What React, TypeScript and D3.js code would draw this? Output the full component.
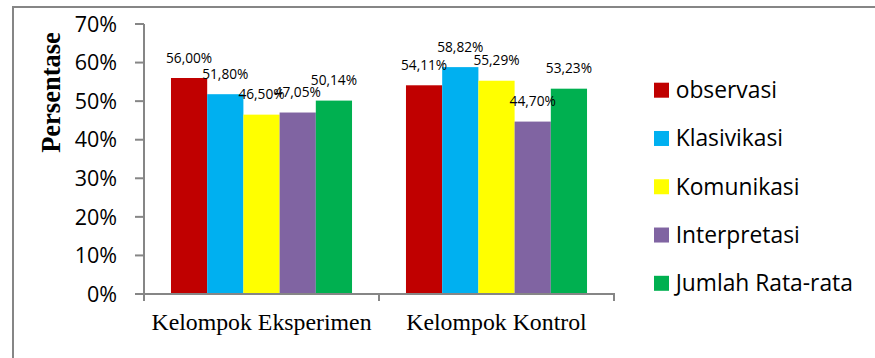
import React from "react";
import * as d3 from "d3";

const categories = ["Kelompok Eksperimen", "Kelompok Kontrol"];
const seriesNames = ["observasi", "Klasivikasi", "Komunikasi", "Interpretasi", "Jumlah Rata-rata"];
const seriesColors = ["#C00000", "#00B0F0", "#FFFF00", "#8064A2", "#00B050"];
const observasi = [56.0, 54.11];
const klasivikasi = [51.8, 58.82];
const komunikasi = [46.5, 55.29];
const interpretasi = [47.05, 44.7];
const jumlahRataRata = [50.14, 53.23];
const yTicks = [0, 10, 20, 30, 40, 50, 60, 70];

const seriesValues = [observasi, klasivikasi, komunikasi, interpretasi, jumlahRataRata];

const W = 875;
const H = 358;
const plotLeft = 144;
const plotRight = 614;
const plotTop = 24;
const plotBottom = 294;
const axisColor = "#868686";
const sans = "'Open Sans', sans-serif";
const serif = "'Liberation Serif', 'Times New Roman', serif";

export default function App() {
  const x0 = d3.scaleBand<string>().domain(categories).range([plotLeft, plotRight]).paddingInner(0).paddingOuter(0);
  const x1 = d3
    .scaleBand<string>()
    .domain(seriesNames)
    .range([0, x0.bandwidth()])
    .paddingOuter(0.745)
    .paddingInner(0);
  const y = d3.scaleLinear().domain([0, 70]).range([plotBottom, plotTop]);
  const fmt = (v: number) => v.toFixed(2).replace(".", ",") + "%";

  const legendY = d3.scalePoint<string>().domain(seriesNames).range([90.2, 283.3]);

  return (
    <svg width={W} height={H} style={{ position: "absolute", left: 0, top: 0 }}>
      <rect x={0} y={0} width={W} height={H} fill="#fff" />
      <rect x={13} y={7} width={W + 20} height={H + 20} fill="none" stroke={axisColor} strokeWidth={2} />

      {/* bars */}
      {categories.map((c, ci) =>
        seriesNames.map((s, si) => {
          const v = seriesValues[si][ci];
          const bx = (x0(c) as number) + (x1(s) as number);
          return (
            <rect
              key={c + s}
              x={bx}
              y={y(v)}
              width={x1.bandwidth()}
              height={plotBottom - y(v)}
              fill={seriesColors[si]}
            />
          );
        })
      )}

      {/* y axis */}
      <line x1={plotLeft} x2={plotLeft} y1={plotTop} y2={plotBottom + 7} stroke={axisColor} strokeWidth={2} />
      {yTicks.map((t) => (
        <g key={t}>
          <line x1={135} x2={plotLeft} y1={y(t)} y2={y(t)} stroke={axisColor} strokeWidth={2} />
          <text
            x={117}
            y={y(t) + 7.7}
            textAnchor="end"
            fontFamily={sans}
            fontSize={21.5}
            fill="#000"
          >
            {t}%
          </text>
        </g>
      ))}

      {/* x axis */}
      <line x1={135} x2={plotRight + 1} y1={plotBottom} y2={plotBottom} stroke={axisColor} strokeWidth={2} />
      {[...categories.map((c) => x0(c) as number), plotRight].map((tx, i) => (
        <line key={i} x1={tx} x2={tx} y1={plotBottom} y2={plotBottom + 7} stroke={axisColor} strokeWidth={2} />
      ))}
      {categories.map((c) => (
        <text
          key={c}
          x={(x0(c) as number) + x0.bandwidth() / 2}
          y={330}
          textAnchor="middle"
          fontFamily={serif}
          fontSize={23.8}
          fill="#000"
        >
          {c}
        </text>
      ))}

      {/* data labels */}
      {categories.map((c, ci) =>
        seriesNames.map((s, si) => {
          const v = seriesValues[si][ci];
          const cx = (x0(c) as number) + (x1(s) as number) + x1.bandwidth() / 2;
          return (
            <text
              key={"l" + c + s}
              x={cx}
              y={y(v) - 15.5}
              textAnchor="middle"
              fontFamily={sans}
              fontSize={13.7}
              fill="#000"
            >
              {fmt(v)}
            </text>
          );
        })
      )}

      {/* y title */}
      <text
        transform={`translate(60,92.5) rotate(-90)`}
        textAnchor="middle"
        fontFamily={serif}
        fontWeight="bold"
        fontSize={26.5}
        fill="#000"
      >
        Persentase
      </text>

      {/* legend */}
      {seriesNames.map((s, si) => {
        const cy = legendY(s) as number;
        return (
          <g key={"lg" + s}>
            <rect x={654} y={cy - 7.5} width={15} height={15} fill={seriesColors[si]} />
            <text x={675.7} y={cy + 8} fontFamily={sans} fontSize={22.8} fill="#000">
              {s}
            </text>
          </g>
        );
      })}
    </svg>
  );
}
